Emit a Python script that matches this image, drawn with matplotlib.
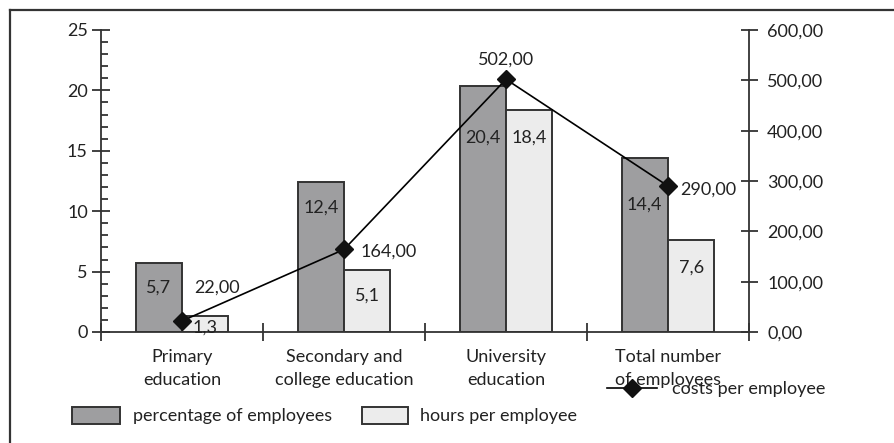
import matplotlib
matplotlib.use("Agg")
import matplotlib.pyplot as plt
from matplotlib.lines import Line2D
from matplotlib.patches import Rectangle
from matplotlib.ticker import FuncFormatter, MultipleLocator
import numpy as np

categories = ["Primary\neducation", "Secondary and\ncollege education",
              "University\neducation", "Total number\nof employees"]
pct_employees = [5.7, 12.4, 20.4, 14.4]
hours_per_employee = [1.3, 5.1, 18.4, 7.6]
costs_per_employee = [22.0, 164.0, 502.0, 290.0]
legend_labels = ["percentage of employees", "hours per employee", "costs per employee"]

W, H = 895, 443
DPI = 100
PX = 72.0 / DPI  # points per pixel

plt.rcParams['font.family'] = ['Lato', 'DejaVu Sans']
FS = 13
TXT = "#222222"
DARK = "#9e9ea0"
LIGHT = "#ececec"
EDGE = "#333333"

fig = plt.figure(figsize=(W / DPI, H / DPI), dpi=DPI)
fig.patch.set_facecolor("white")

# axes area in pixels
x0, x1 = 101, 749
y_top, y_bot = 30, 332
ax = fig.add_axes([x0 / W, 1 - y_bot / H, (x1 - x0) / W, (y_bot - y_top) / H])
ax.set_facecolor("none")

x = np.arange(len(categories))
bw = 0.287
ax.bar(x - bw / 2, pct_employees, bw, color=DARK, edgecolor=EDGE, linewidth=1.4, zorder=2)
ax.bar(x + bw / 2, hours_per_employee, bw, color=LIGHT, edgecolor=EDGE, linewidth=1.4, zorder=2)

ax.set_xlim(-0.5, len(categories) - 0.5)
ax.set_ylim(0, 25)
ax.yaxis.set_major_locator(MultipleLocator(5))
ax.yaxis.set_minor_locator(MultipleLocator(1))
ax.tick_params(axis='y', which='major', direction='inout', length=18 * PX, width=1.3,
               labelsize=FS, labelcolor=TXT, color=EDGE, pad=3)
ax.tick_params(axis='y', which='minor', direction='in', length=7 * PX, width=1.3, color=EDGE)

# x: boundary ticks (major, no labels), category labels (minor, no tick marks)
ax.set_xticks(np.arange(-0.5, len(categories)), [""] * (len(categories) + 1))
ax.set_xticks(x, categories, minor=True)
ax.tick_params(axis='x', which='major', direction='inout', length=18 * PX, width=1.3, color=EDGE)
ax.tick_params(axis='x', which='minor', length=0, labelsize=FS, labelcolor=TXT, pad=12)
for t in ax.get_xticklabels(minor=True):
    t.set_linespacing(1.55)

for s in ["top", "right"]:
    ax.spines[s].set_visible(False)
for s in ["left", "bottom"]:
    ax.spines[s].set_color(EDGE)
    ax.spines[s].set_linewidth(1.3)

ax2 = ax.twinx()
ax2.set_ylim(0, 600)
ax2.yaxis.set_major_locator(MultipleLocator(100))
ax2.yaxis.set_major_formatter(FuncFormatter(lambda v, p: f"{v:.2f}".replace(".", ",")))
ax2.tick_params(axis='y', direction='inout', length=17 * PX, width=1.3, color=EDGE,
                labelsize=FS, labelcolor=TXT, pad=7)
for s in ["top", "left", "bottom"]:
    ax2.spines[s].set_visible(False)
ax2.spines["right"].set_color(EDGE)
ax2.spines["right"].set_linewidth(1.3)
ax2.plot(x, costs_per_employee, color="black", linewidth=1.2, marker="D",
         markersize=9, markerfacecolor="#111111", markeredgecolor="#111111", zorder=5,
         clip_on=False)

def fmt(v, d):
    return f"{v:.{d}f}".replace(".", ",")

# bar value labels (offsets in px below bar top)
dark_off = [-24, -25, -52, -47]
light_off = [-11, -25, -28, -27]
for i in range(len(categories)):
    ax.annotate(fmt(pct_employees[i], 1), (x[i] - bw / 2, pct_employees[i]),
                xytext=(0, dark_off[i] * PX), textcoords="offset points",
                ha="center", va="center", fontsize=FS, color=TXT, zorder=6)
    ax.annotate(fmt(hours_per_employee[i], 1), (x[i] + bw / 2, hours_per_employee[i]),
                xytext=(0, light_off[i] * PX), textcoords="offset points",
                ha="center", va="center", fontsize=FS, color=TXT, zorder=6)

# line value labels
line_off = [(12, 33, "left"), (17, -2, "left"), (0, 20, "center"), (12, -4, "left")]
for i in range(len(categories)):
    dx, dy, ha = line_off[i]
    ax2.annotate(fmt(costs_per_employee[i], 2), (x[i], costs_per_employee[i]),
                 xytext=(dx * PX, dy * PX), textcoords="offset points",
                 ha=ha, va="center", fontsize=FS, color=TXT, zorder=7)

# outer frame (left and top edges)
fig.add_artist(Line2D([10 / W, 10 / W], [0, 1 - 10 / H], color="#333333", linewidth=1.6))
fig.add_artist(Line2D([10 / W, 1], [1 - 10 / H, 1 - 10 / H], color="#333333", linewidth=1.6))

# legend (drawn manually)
def rect_px(xa, xb, ya, yb, fc):
    fig.add_artist(Rectangle((xa / W, 1 - yb / H), (xb - xa) / W, (yb - ya) / H,
                             facecolor=fc, edgecolor=EDGE, linewidth=1.4,
                             transform=fig.transFigure))

rect_px(72, 120, 407, 424, DARK)
fig.text(133 / W, 1 - 416 / H, legend_labels[0], ha="left", va="center", fontsize=FS, color=TXT)
rect_px(362, 408, 407, 424, LIGHT)
fig.text(420 / W, 1 - 416 / H, legend_labels[1], ha="left", va="center", fontsize=FS, color=TXT)
fig.add_artist(Line2D([607 / W, 657 / W], [1 - 388 / H, 1 - 388 / H], color="black", linewidth=1.2))
fig.add_artist(Line2D([632 / W], [1 - 388 / H], marker="D", markersize=9,
                      color="#111111", linestyle="none"))
fig.text(672 / W, 1 - 389 / H, legend_labels[2], ha="left", va="center", fontsize=FS, color=TXT)

fig.savefig("out.png", dpi=DPI, facecolor="white")
